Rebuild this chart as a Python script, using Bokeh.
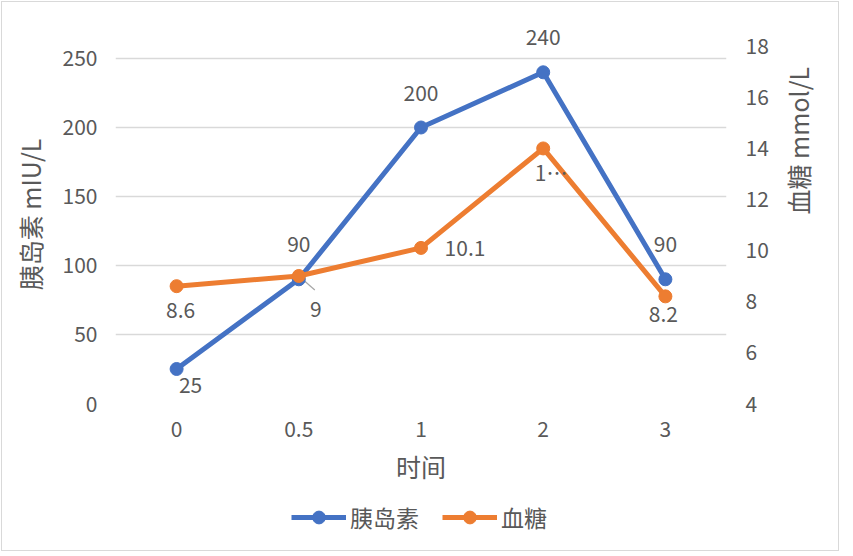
import math
from bokeh.plotting import figure
from bokeh.layouts import column
from bokeh.models import (Range1d, LinearAxis, FixedTicker, ColumnDataSource,
                          LabelSet, Legend, LegendItem)
from bokeh.core.properties import value
from bokeh.embed import file_html
from bokeh.resources import INLINE

# ---- data ----
categories = ["0", "0.5", "1", "2", "3"]
insulin = [25, 90, 200, 240, 90]
glucose = [8.6, 9, 10.1, 14, 8.2]
insulin_labels = ["25", "90", "200", "240", "90"]
glucose_labels = ["8.6", "9", "10.1", "1\u2026", "8.2"]
left_ticks = [0, 50, 100, 150, 200, 250]
right_ticks = [4, 6, 8, 10, 12, 14, 16, 18]
series_names = ["胰岛素", "血糖"]

FONT = "Noto Sans CJK SC"
GRAY = "#595959"
BLUE = "#4472C4"
ORANGE = "#ED7D31"

xs = list(range(len(categories)))

chart = figure(width=836, height=488, x_range=Range1d(-0.5, len(categories) - 0.5),
               y_range=Range1d(0, 273.9), output_backend="svg", toolbar_location=None,
               min_border_left=113, min_border_right=112, min_border_top=23,
               min_border_bottom=87)
chart.outline_line_color = None
chart.border_fill_color = "white"
chart.extra_y_ranges = {"right": Range1d(4, 18.82)}

# axes
chart.xaxis.ticker = FixedTicker(ticks=xs)
chart.xaxis.major_label_overrides = {i: c for i, c in enumerate(categories)}
chart.yaxis.ticker = FixedTicker(ticks=left_ticks)
chart.xaxis.axis_label = "时间"
chart.yaxis.axis_label = "胰岛素 mIU/L"

raxis = LinearAxis(y_range_name="right", ticker=FixedTicker(ticks=right_ticks),
                   axis_label="血糖 mmol/L")
chart.add_layout(raxis, "right")

for ax in [chart.xaxis[0], chart.yaxis[0], raxis]:
    ax.axis_line_color = None
    ax.major_tick_line_color = None
    ax.minor_tick_line_color = None
    ax.major_tick_out = 0
    ax.major_tick_in = 0
    ax.major_label_text_font = FONT
    ax.major_label_text_font_size = "21px"
    ax.major_label_text_color = GRAY
    ax.axis_label_text_font = FONT
    ax.axis_label_text_font_size = "25px"
    ax.axis_label_text_color = GRAY
    ax.axis_label_text_font_style = "normal"

raxis.axis_label_orientation = math.pi / 2

chart.xaxis.major_label_standoff = 17
chart.xaxis.axis_label_standoff = 8
chart.yaxis.major_label_standoff = 18
chart.yaxis.axis_label_standoff = 12
raxis.major_label_standoff = 19
raxis.axis_label_standoff = 26

chart.xgrid.grid_line_color = None
chart.ygrid.grid_line_color = "#d9d9d9"
chart.ygrid.grid_line_width = 1.3

# leader line for the "9" label (pixel offsets converted to data units)
px_x = 611 / len(categories)
px_yr = 357 / (18 - 4)
chart.segment(x0=[xs[1]], y0=[glucose[1]], x1=[xs[1] + 16 / px_x],
              y1=[glucose[1] - 14 / px_yr], line_color="#a6a6a6", line_width=1.2,
              y_range_name="right")

ins_src = ColumnDataSource(dict(x=xs, y=insulin, t=insulin_labels,
                                dx=[14, 0, 0, 0, 0], dy=[-16, 35, 34, 35, 35]))
glu_src = ColumnDataSource(dict(x=xs, y=glucose, t=glucose_labels,
                                dx=[4, 17, 44, 8, -2], dy=[-24, -33, 0, -24, -18]))

chart.line("x", "y", source=ins_src, line_color=BLUE, line_width=5)
chart.scatter("x", "y", source=ins_src, size=13, fill_color=BLUE, line_color=BLUE)
chart.line("x", "y", source=glu_src, line_color=ORANGE, line_width=5,
           y_range_name="right")
chart.scatter("x", "y", source=glu_src, size=13, fill_color=ORANGE,
              line_color=ORANGE, y_range_name="right")

for src, rname in [(ins_src, "default"), (glu_src, "right")]:
    ls = LabelSet(x="x", y="y", text="t", source=src, x_offset="dx", y_offset="dy",
                  text_align="center", text_baseline="middle", text_font=value(FONT),
                  text_font_size="21px", text_color=GRAY, y_range_name=rname)
    chart.add_layout(ls)

# ---- legend strip (its renderers reuse the series, kept out of view) ----
leg = figure(width=836, height=60, x_range=Range1d(0, 1), y_range=Range1d(-2, -1),
             output_backend="svg", toolbar_location=None, x_axis_type=None,
             y_axis_type=None, min_border=0)
leg.outline_line_color = None
leg.grid.grid_line_color = None
items = []
for name, col, src in zip(series_names, [BLUE, ORANGE], [ins_src, glu_src]):
    lr = leg.line("x", "y", source=src, line_color=col, line_width=5)
    sr = leg.scatter("x", "y", source=src, size=13, fill_color=col, line_color=col)
    items.append(LegendItem(label=name, renderers=[lr, sr]))
legend = Legend(items=items, orientation="horizontal", location=(176, 16))
legend.label_text_font = FONT
legend.label_text_font_size = "23px"
legend.label_text_color = GRAY
legend.glyph_width = 55
legend.glyph_height = 32
legend.label_standoff = 4
legend.spacing = 23
legend.border_line_color = None
legend.background_fill_alpha = 0
legend.margin = 0
legend.padding = 5
leg.add_layout(legend, "center")

p = column(chart, leg, spacing=0,
           styles={"outline": "1px solid #d9d9d9", "margin-left": "2px",
                   "margin-top": "2px"})

open("out.html", "w").write(file_html(p, INLINE))
